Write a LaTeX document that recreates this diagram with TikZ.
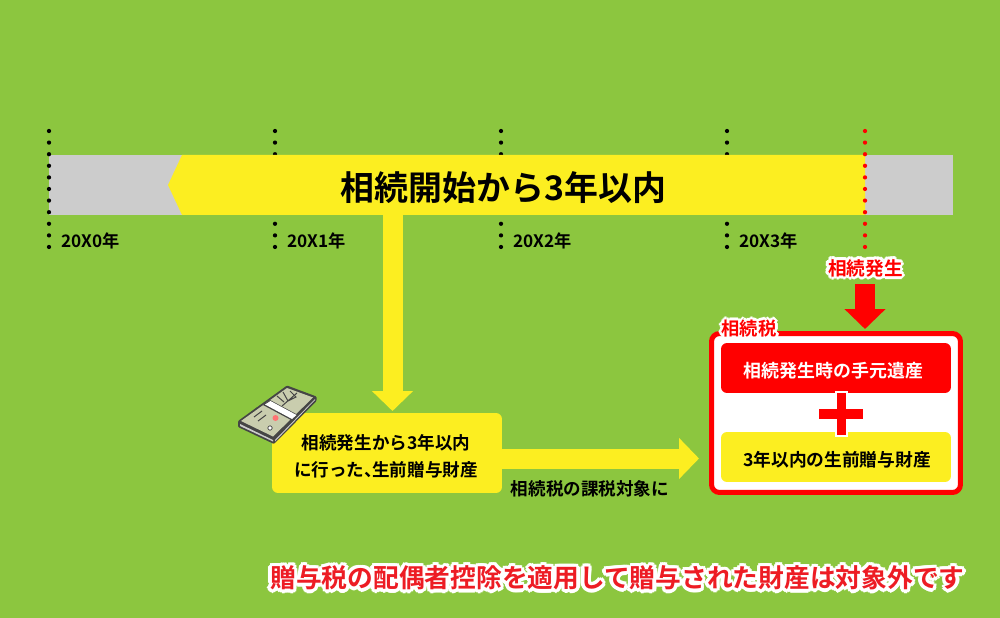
\documentclass[tikz,border=0pt]{standalone}
\usepackage{fontspec}
\setmainfont{Noto Sans CJK JP}[BoldFont={Noto Sans CJK JP Bold}]
\usetikzlibrary{arrows.meta}
\definecolor{leaf}{HTML}{8CC63F}
\definecolor{lemon}{HTML}{FCEE21}
\definecolor{barGray}{HTML}{CCCCCC}
\definecolor{noteRed}{HTML}{ED1C24}
\definecolor{billGray}{HTML}{C9CDAE}
\definecolor{billEdge}{HTML}{454545}
% white rim round a text
\newcommand{\halotext}[2]{\foreach \ang in {0,30,...,330}{%
  \pgfmathsetmacro{\hx}{#1*cos(\ang)}\pgfmathsetmacro{\hy}{#1*sin(\ang)}%
  \rlap{\kern\hx pt\smash{\raisebox{\hy pt}{\textcolor{white}{#2}}}}}#2}
\newcommand{\fsize}[1]{\fontsize{#1}{#1}\selectfont\bfseries}
\begin{document}
\begin{tikzpicture}[x=0.02cm,y=-0.02cm,
box/.style ={rectangle, fill=lemon, rounded corners=0.12cm,
  minimum width=4.6cm, minimum height=1cm, inner sep=0pt,
  text centered, text=black
},
year/.style ={inner sep=0pt, anchor=west, font=\fsize{9.8}},
ticks/.style ={line width=0.085cm, line cap=round,
  dash pattern=on 0pt off 0.232cm
},
yarrow/.style ={draw=lemon, line width=0.4cm,
  -{Triangle[width=0.8cm,length=0.4cm,fill=lemon]}
},
rarrow/.style ={draw=red, line width=0.4cm,
  -{Triangle[width=0.8cm,length=0.4cm,fill=red]}
}]
\useasboundingbox (0,0) rectangle (1000,618);
\fill[leaf] (0,0) rectangle (1000,618);
% time line
\node (bar) at (501,185) [rectangle, fill=barGray, inner sep=0pt,
  minimum width=18.08cm, minimum height=1.2cm] {};
\foreach \x/\n in {49/0,275/1,501/2,727/3}{
  \draw[ticks] (\x,131) -- (\x,250);
  \node (y\n) at (\x+12,241) [year] {20X\n 年};
}
\fill[lemon] (168,185) -- (182,155) -- (865,155) -- (865,215) -- (182,215) -- cycle;
\draw[ticks, red] (865,131) -- (865,250);
\node (period) at (503.5,188) [inner sep=0pt, font=\fsize{19.3}] {相続開始から3年以内};
% gift box
\node (gift) at (387,453) [box, minimum height=1.6cm] {};
\node (giftText) at (386,456) [inner sep=0pt, align=center,
  font=\fontsize{10}{15.3}\selectfont\bfseries] {相続発生から3年以内\\に行った、\kern-0.55em生前贈与財産};
% tax box
\node (tax) at (836,413) [rectangle, draw=red, line width=0.1cm, fill=white,
  rounded corners=0.16cm, minimum width=4.98cm, minimum height=3.18cm] {};
\node (now) at (836,368) [box, fill=red] {};
\node (nowText) at (833.5,371) [inner sep=0pt, text=white, font=\fsize{10.2}] {相続発生時の手元遺産};
\node (past) at (836,457) [box] {};
\node (pastText) at (837,460) [inner sep=0pt, font=\fsize{10.1}] {3年以内の生前贈与財産};
\fill[white] (835,391) rectangle (848,437);
\fill[red] (837,393) rectangle (846,435);
\fill[red] (819,409) rectangle (863,418.5);
\node (taxLabel) at (749,329) [inner sep=0pt, text=red, font=\fsize{10.4}] {\halotext{1.7}{相続税}};
\node (event) at (865.5,268) [inner sep=0pt, text=red, font=\fsize{10.6}] {\halotext{1.7}{相続発生}};
% arrows
\coordinate (c1) at (392.5,215);
\coordinate (c2) at (392.5,411);
\coordinate (c3) at (502,458.5);
\coordinate (c4) at (699,458.5);
\coordinate (c5) at (865,284);
\coordinate (c6) at (865,329);
\draw[yarrow] (c1) -- (c2);
\draw[yarrow] (c3) -- (c4);
\draw[rarrow] (c5) -- (c6);
\node (target) at (590,489) [inner sep=0pt, font=\fsize{10}] {相続税の課税対象に};
% bank notes
\fill[billEdge, rounded corners=0.02cm] (238,421) -- (287,385.5) -- (316.5,396.5) -- (316.5,401) -- (274,444) -- (238,427) -- cycle;
\fill[barGray] (240,424) -- (273,440) -- (273,441.5) -- (240,426) -- cycle;
\fill[barGray] (275,440) -- (315,399) -- (315,400) -- (275,441.5) -- cycle;
\fill[billGray] (241,421) -- (287,388) -- (313,397.5) -- (273,436.5) -- cycle;
\fill[billEdge] (263,405) -- (270,400) -- (298,415) -- (292,420.5) -- cycle;
\fill[white] (265,404.5) -- (270.5,401) -- (296.5,415) -- (292,419) -- cycle;
\draw[billEdge, line width=0.02cm] (283,392) -- (288,401) -- (296,397) -- (290,391) (277,396) -- (284,402) (282,406) -- (297,393);
\draw[billEdge, line width=0.02cm] (254,417) -- (262,411) (258,421) -- (266,415) (252,412) -- (257,408);
\fill[pink!60!red] (275.5,418) circle (3);
\draw[billEdge, fill=white, line width=0.015cm] (270,428) circle (2.2);
% note
\node (note) at (617.5,578) [inner sep=0pt, text=noteRed, font=\fsize{14.65}] {\halotext{2}{贈与税の配偶者控除を適用して贈与された財産は対象外です}};
\end{tikzpicture}
\end{document}
